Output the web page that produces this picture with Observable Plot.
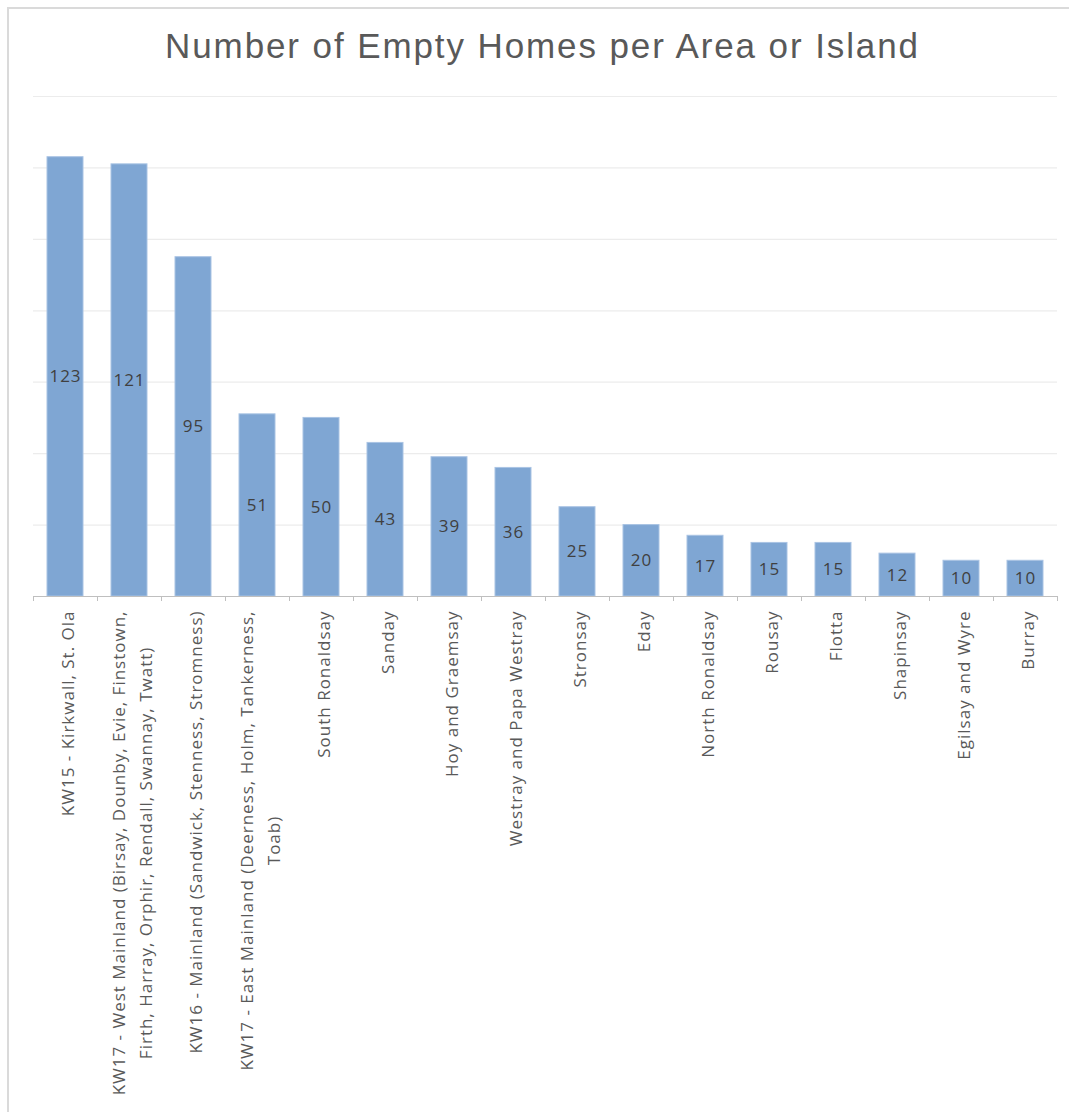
<!DOCTYPE html>
<html>
<head>
<meta charset="utf-8">
<script src="https://cdn.jsdelivr.net/npm/d3@7"></script>
<script src="https://cdn.jsdelivr.net/npm/@observablehq/plot@0.6"></script>
<style>
  html, body { margin: 0; padding: 0; background: #fff; width: 1069px; height: 1112px; overflow: hidden; }
  #frame { position: absolute; left: 7px; top: 7px; width: 1062px; height: 1105px; z-index: 5; pointer-events: none;
           border-left: 2px solid #dadada; border-top: 2px solid #dadada; box-sizing: border-box; }
  #title { position: absolute; left: 0; top: 26px; width: 1085px; text-align: center;
           font-family: "Liberation Sans", Arial, sans-serif; font-size: 35px; line-height: 40px;
           letter-spacing: 1.9px; color: #595959; }
  #chart { position: absolute; left: 0; top: 80px; }
  #chart svg text { letter-spacing: 1px; }
</style>
</head>
<body>
<div id="frame"></div>
<div id="title">Number of Empty Homes per Area or Island</div>
<div id="chart"></div>
<script>
const categories = [
  "KW15 - Kirkwall, St. Ola",
  "KW17 - West Mainland (Birsay, Dounby, Evie, Finstown, Firth, Harray, Orphir, Rendall, Swannay, Twatt)",
  "KW16 - Mainland (Sandwick, Stenness, Stromness)",
  "KW17 - East Mainland (Deerness, Holm, Tankerness, Toab)",
  "South Ronaldsay",
  "Sanday",
  "Hoy and Graemsay",
  "Westray and Papa Westray",
  "Stronsay",
  "Eday",
  "North Ronaldsay",
  "Rousay",
  "Flotta",
  "Shapinsay",
  "Egilsay and Wyre",
  "Burray"
];
const values = [123, 121, 95, 51, 50, 43, 39, 36, 25, 20, 17, 15, 15, 12, 10, 10];
const tickLabels = [
  "KW15 - Kirkwall, St. Ola",
  "KW17 - West Mainland (Birsay, Dounby, Evie, Finstown,\nFirth, Harray, Orphir, Rendall, Swannay, Twatt)",
  "KW16 - Mainland (Sandwick, Stenness, Stromness)",
  "KW17 - East Mainland (Deerness, Holm, Tankerness,\nToab)",
  "South Ronaldsay",
  "Sanday",
  "Hoy and Graemsay",
  "Westray and Papa Westray",
  "Stronsay",
  "Eday",
  "North Ronaldsay",
  "Rousay",
  "Flotta",
  "Shapinsay",
  "Egilsay and Wyre",
  "Burray"
];
const yGridTicks = [20, 40, 60, 80, 100, 120, 140];

const data = categories.map((c, i) => ({area: c, count: values[i]}));

const W = 1069, H = 1032, ML = 33, MR = 12, MT = 16, MB = 516;
const step = (W - ML - MR) / categories.length;
const axisColor = "#bfbfbf";

const chart = Plot.plot({
  width: W,
  height: H,
  marginLeft: ML,
  marginRight: MR,
  marginTop: MT,
  marginBottom: MB,
  style: {fontFamily: "'Open Sans', sans-serif", background: "transparent"},
  x: {domain: categories, paddingInner: 0.44, paddingOuter: 0.22},
  y: {domain: [0, 140], axis: null},
  marks: [
    Plot.ruleY(yGridTicks, {stroke: "#ececec", strokeWidth: 1.2}),
    Plot.barY(data, {x: "area", y: "count", fill: "#7fa6d3", stroke: "#a9c3e3", strokeWidth: 1}),
    Plot.ruleY([0], {stroke: axisColor, strokeWidth: 1.2}),
    Plot.axisX({tickSize: 5, tickFormat: () => "", dx: -step / 2, stroke: axisColor, label: null}),
    Plot.axisX([categories[categories.length - 1]], {tickSize: 5, tickFormat: () => "", dx: step / 2, stroke: axisColor, label: null}),
    Plot.axisX({
      tickSize: 0, tickPadding: 14, tickRotate: -90,
      tickFormat: d => tickLabels[categories.indexOf(d)],
      fontSize: 17, lineHeight: 1.6, color: "#595959", label: null
    }),
    Plot.text(data, {
      x: "area", y: d => d.count / 2, text: d => String(d.count),
      fontSize: 17, fill: "#404040"
    })
  ]
});

document.getElementById("chart").appendChild(chart);

// Centre wrapped tick-label lines against each other (as the original does)
chart.querySelectorAll('g[aria-label="x-axis tick label"] text').forEach(t => {
  const spans = t.querySelectorAll("tspan");
  if (spans.length > 1) {
    const lens = Array.from(spans, s => s.getComputedTextLength());
    const L0 = lens[0];
    spans.forEach((s, i) => s.setAttribute("x", -(L0 - lens[i]) / 2));
  }
});
</script>
</body>
</html>
